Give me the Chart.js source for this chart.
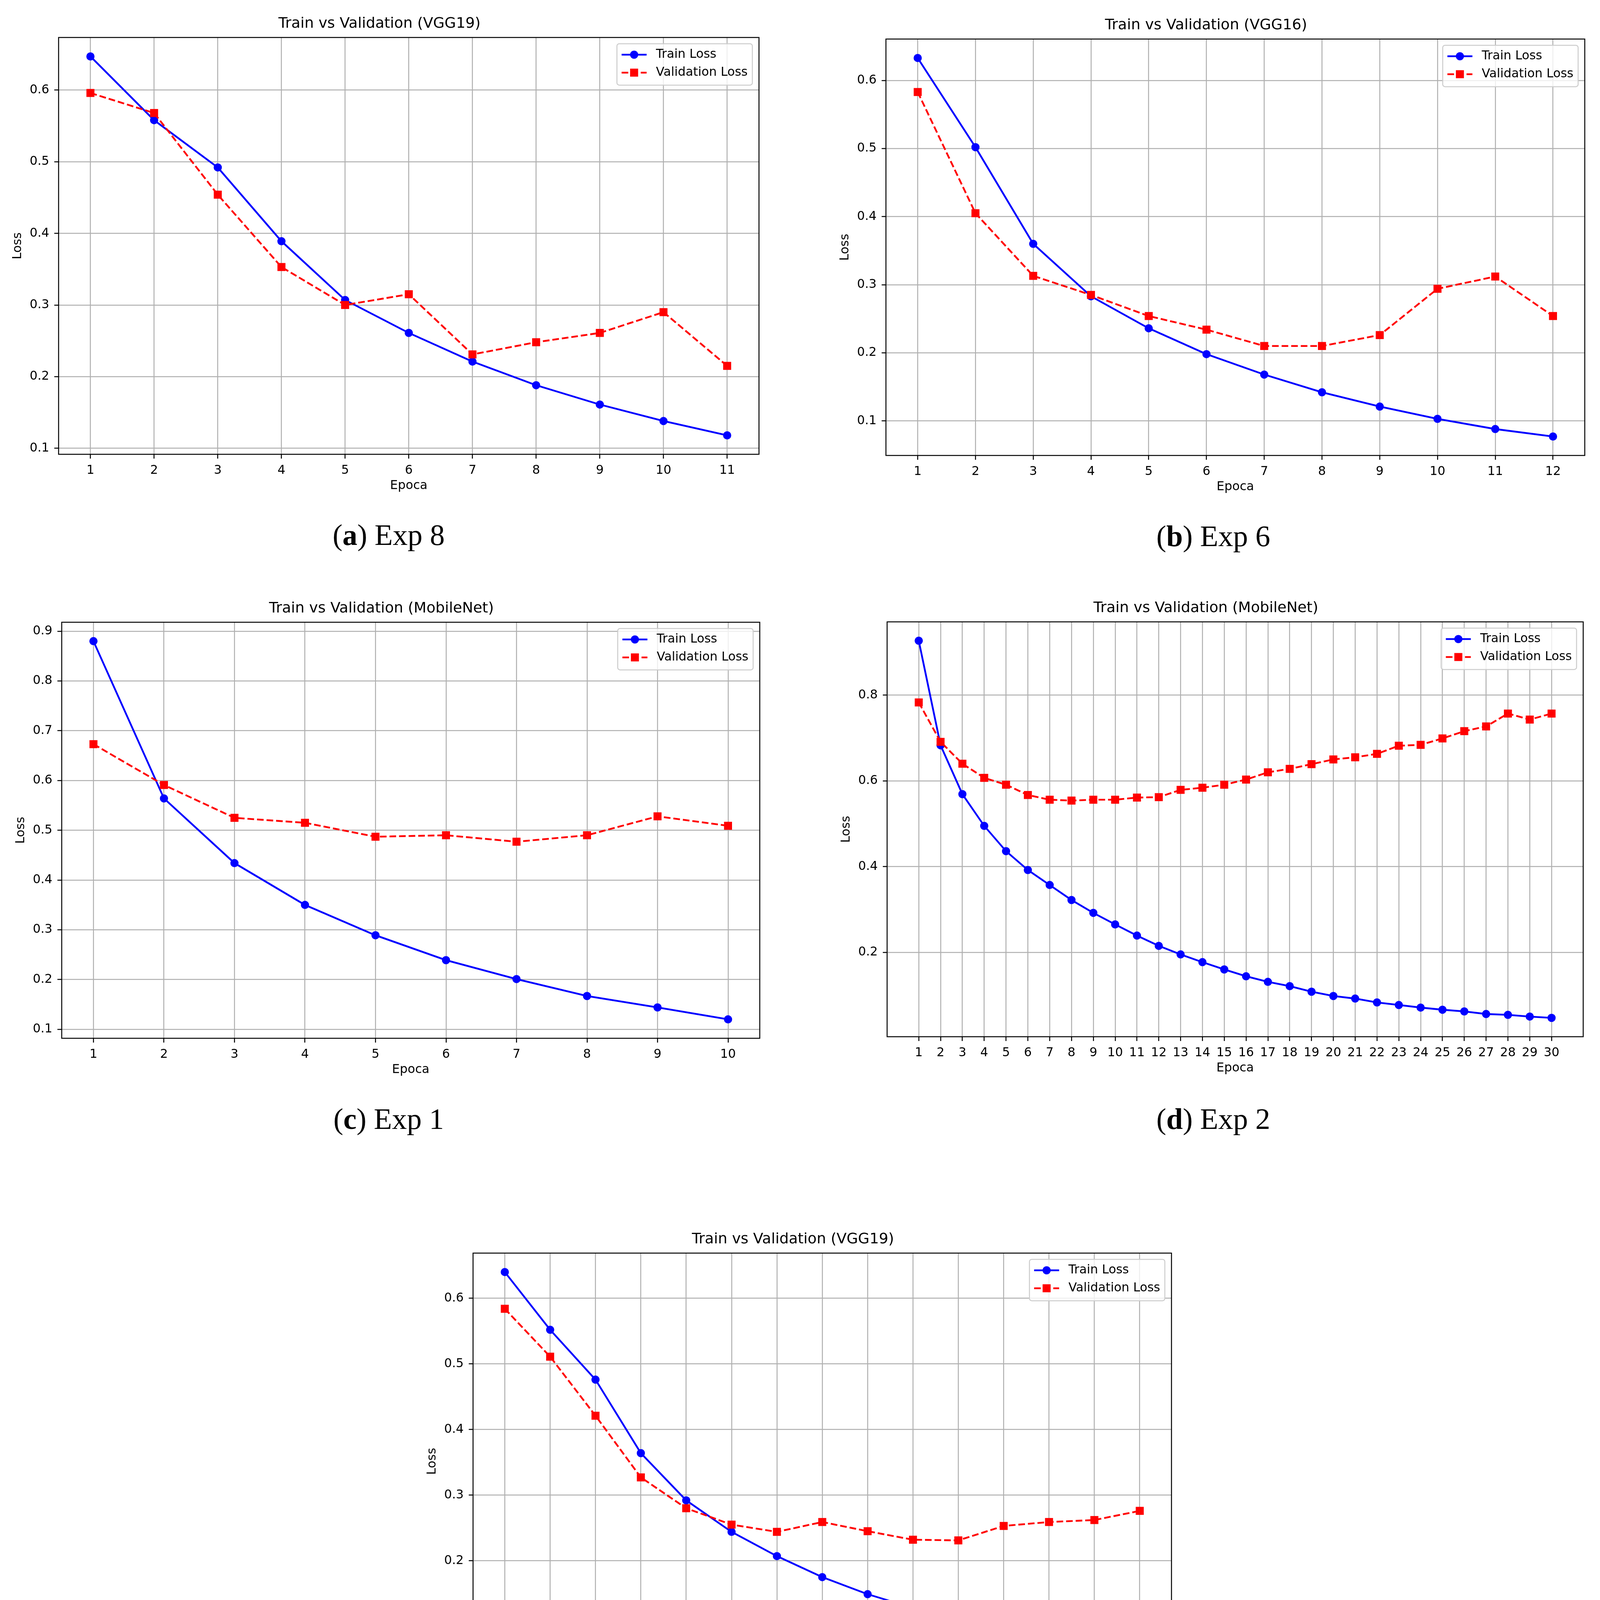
<!DOCTYPE html>
<html lang="pt">
<head>
<meta charset="utf-8">
<title>Train vs Validation</title>
<script src="https://cdn.jsdelivr.net/npm/chart.js@4.4.0/dist/chart.umd.min.js"></script>
<style>
  html, body { margin: 0; padding: 0; background: #fff; overflow: hidden; }
  #pagina { position: relative; width: 4099px; height: 4574px; overflow: hidden; }
  canvas { position: absolute; }
  .legenda {
    position: absolute;
    font-family: "Liberation Serif", serif;
    font-size: 76px;
    line-height: 76px;
    color: #000;
    white-space: nowrap;
    transform: translate(-50%, -50%);
  }
</style>
</head>
<body>
<div id="pagina">
  <canvas id="graficoA"></canvas>
  <canvas id="graficoB"></canvas>
  <canvas id="graficoC"></canvas>
  <canvas id="graficoD"></canvas>
  <canvas id="graficoE"></canvas>
  <div class="legenda" style="left:995px;top:1369px">(<b>a</b>) Exp 8</div>
  <div class="legenda" style="left:3106px;top:1372px">(<b>b</b>) Exp 6</div>
  <div class="legenda" style="left:995px;top:2864px">(<b>c</b>) Exp 1</div>
  <div class="legenda" style="left:3106px;top:2864px">(<b>d</b>) Exp 2</div>
  <div class="legenda" style="left:2049px;top:4485px">(<b>e</b>) Exp 11</div>
</div>
<script>
// (a) Exp 8 - VGG19
var epocasA = [1, 2, 3, 4, 5, 6, 7, 8, 9, 10, 11];
var treinoA = [0.647, 0.558, 0.492, 0.389, 0.307, 0.261, 0.221, 0.188, 0.161, 0.138, 0.118];
var validacaoA = [0.596, 0.568, 0.454, 0.353, 0.300, 0.315, 0.231, 0.248, 0.261, 0.290, 0.215];
var marcasYA = [0.1, 0.2, 0.3, 0.4, 0.5, 0.6];

// (b) Exp 6 - VGG16
var epocasB = [1, 2, 3, 4, 5, 6, 7, 8, 9, 10, 11, 12];
var treinoB = [0.633, 0.502, 0.360, 0.283, 0.236, 0.198, 0.168, 0.142, 0.121, 0.103, 0.088, 0.077];
var validacaoB = [0.583, 0.405, 0.313, 0.285, 0.254, 0.234, 0.210, 0.210, 0.226, 0.294, 0.312, 0.254];
var marcasYB = [0.1, 0.2, 0.3, 0.4, 0.5, 0.6];

// (c) Exp 1 - MobileNet
var epocasC = [1, 2, 3, 4, 5, 6, 7, 8, 9, 10];
var treinoC = [0.880, 0.564, 0.434, 0.350, 0.289, 0.239, 0.201, 0.167, 0.144, 0.120];
var validacaoC = [0.673, 0.591, 0.525, 0.515, 0.487, 0.490, 0.477, 0.490, 0.528, 0.509];
var marcasYC = [0.1, 0.2, 0.3, 0.4, 0.5, 0.6, 0.7, 0.8, 0.9];

// (d) Exp 2 - MobileNet
var epocasD = [1, 2, 3, 4, 5, 6, 7, 8, 9, 10, 11, 12, 13, 14, 15, 16, 17, 18, 19, 20, 21, 22, 23, 24, 25, 26, 27, 28, 29, 30];
var treinoD = [0.927, 0.683, 0.569, 0.495, 0.436, 0.392, 0.357, 0.322, 0.292, 0.265, 0.239, 0.215, 0.195, 0.177, 0.160,
               0.144, 0.131, 0.121, 0.108, 0.098, 0.092, 0.083, 0.077, 0.071, 0.066, 0.062, 0.056, 0.054, 0.050, 0.047];
var validacaoD = [0.783, 0.691, 0.640, 0.607, 0.591, 0.567, 0.556, 0.554, 0.556, 0.556, 0.561, 0.562, 0.579, 0.584, 0.591,
                  0.603, 0.620, 0.628, 0.639, 0.650, 0.655, 0.663, 0.682, 0.684, 0.699, 0.716, 0.727, 0.757, 0.743, 0.757];
var marcasYD = [0.2, 0.4, 0.6, 0.8];

// (e) Exp 11 - VGG19
var epocasE = [1, 2, 3, 4, 5, 6, 7, 8, 9, 10, 11, 12, 13, 14, 15];
var treinoE = [0.640, 0.552, 0.476, 0.364, 0.292, 0.244, 0.207, 0.175, 0.149, 0.128, 0.108, 0.093, 0.080, 0.071, 0.063];
var validacaoE = [0.584, 0.511, 0.421, 0.327, 0.280, 0.255, 0.244, 0.259, 0.245, 0.232, 0.231, 0.253, 0.259, 0.262, 0.276];
var marcasYE = [0.1, 0.2, 0.3, 0.4, 0.5, 0.6];

Chart.defaults.font.family = '"DejaVu Sans", sans-serif';
Chart.defaults.color = '#000';

// contorno preto em volta da area do grafico
var moldura = {
    id: 'moldura',
    afterDatasetsDraw(chart) {
        const a = chart.chartArea;
        const ctx = chart.ctx;
        ctx.save();
        ctx.strokeStyle = '#000';
        ctx.lineWidth = 2.5;
        ctx.setLineDash([]);
        ctx.strokeRect(a.left, a.top, a.right - a.left, a.bottom - a.top);
        ctx.restore();
    }
};

// legenda dentro do grafico, canto superior direito
var caixaLegenda = {
    id: 'caixaLegenda',
    afterDraw(chart) {
        const a = chart.chartArea;
        const ctx = chart.ctx;
        const conjuntos = chart.data.datasets;
        ctx.save();
        ctx.font = '31.5px "DejaVu Sans"';
        let larguraTexto = 0;
        conjuntos.forEach(d => { larguraTexto = Math.max(larguraTexto, ctx.measureText(d.label).width); });
        const pad = 12, alca = 64, folga = 24, passo = 46;
        const w = pad + alca + folga + larguraTexto + pad;
        const h = 106;
        const x = a.right - 17 - w;
        const y = a.top + 16;

        ctx.beginPath();
        ctx.roundRect(x, y, w, h, 6);
        ctx.fillStyle = 'rgba(255,255,255,0.8)';
        ctx.fill();
        ctx.strokeStyle = '#cccccc';
        ctx.lineWidth = 2.5;
        ctx.stroke();

        conjuntos.forEach((d, i) => {
            const cy = y + 28 + i * passo;
            ctx.strokeStyle = d.borderColor;
            ctx.lineWidth = d.borderWidth;
            ctx.setLineDash(d.borderDash || []);
            ctx.beginPath();
            ctx.moveTo(x + pad, cy);
            ctx.lineTo(x + pad + alca, cy);
            ctx.stroke();
            ctx.setLineDash([]);
            ctx.fillStyle = d.borderColor;
            const mx = x + pad + alca / 2;
            if (d.pointStyle === 'rect') {
                const lado = d.pointRadius * Math.SQRT2;
                ctx.fillRect(mx - lado / 2, cy - lado / 2, lado, lado);
            } else {
                ctx.beginPath();
                ctx.arc(mx, cy, d.pointRadius, 0, Math.PI * 2);
                ctx.fill();
            }
            ctx.fillStyle = '#000';
            ctx.textBaseline = 'middle';
            ctx.textAlign = 'left';
            ctx.fillText(d.label, x + pad + alca + folga, cy);
        });
        ctx.restore();
    }
};

function desenharPainel(idCanvas, caixa, titulo, epocas, treino, validacao, marcasY) {
    const canvas = document.getElementById(idCanvas);
    const largura = caixa.direita - caixa.esquerda;
    const altura = caixa.baixo - caixa.topo;
    canvas.width = largura + 300;
    canvas.height = altura + 215;
    canvas.style.width = canvas.width + 'px';
    canvas.style.height = canvas.height + 'px';
    canvas.style.left = (caixa.esquerda - 150) + 'px';
    canvas.style.top = (caixa.topo - 95) + 'px';

    // margem de 5% como no matplotlib
    const todos = treino.concat(validacao);
    const minY = Math.min(...todos);
    const maxY = Math.max(...todos);
    const margemY = (maxY - minY) * 0.05;
    const primeira = epocas[0];
    const ultima = epocas[epocas.length - 1];
    const margemX = (ultima - primeira) * 0.05;

    const grade = {
        color: '#b0b0b0',
        lineWidth: 2.5,
        tickColor: '#000',
        tickLength: 11,
        tickWidth: 2.5
    };

    new Chart(canvas, {
        type: 'line',
        data: {
            datasets: [{
                label: 'Train Loss',
                data: epocas.map((e, i) => ({ x: e, y: treino[i] })),
                borderColor: '#0000ff',
                backgroundColor: '#0000ff',
                borderWidth: 4.6,
                pointStyle: 'circle',
                pointRadius: 10.5,
                pointBorderWidth: 0,
                pointBackgroundColor: '#0000ff',
                tension: 0,
                order: 1
            },
            {
                label: 'Validation Loss',
                data: epocas.map((e, i) => ({ x: e, y: validacao[i] })),
                borderColor: '#ff0000',
                backgroundColor: '#ff0000',
                borderWidth: 4.6,
                borderDash: [17, 7.5],
                pointStyle: 'rect',
                pointRadius: 14.5,
                pointBorderWidth: 0,
                pointBackgroundColor: '#ff0000',
                tension: 0,
                order: 0
            }]
        },
        options: {
            responsive: false,
            animation: false,
            devicePixelRatio: 1,
            layout: { padding: { left: 0, right: 150, top: 0, bottom: 0 } },
            plugins: {
                legend: { display: false },
                tooltip: { enabled: false },
                title: {
                    display: true,
                    text: titulo,
                    color: '#000',
                    font: { size: 37.8, weight: 'normal' },
                    padding: { top: 38.8, bottom: 11.8 }
                }
            },
            scales: {
                x: {
                    type: 'linear',
                    min: primeira - margemX,
                    max: ultima + margemX,
                    afterBuildTicks: s => { s.ticks = epocas.map(v => ({ value: v })); },
                    afterFit: s => { s.height = 120; },
                    grid: grade,
                    border: { display: false },
                    ticks: {
                        font: { size: 31.5 },
                        padding: 12,
                        autoSkip: false,
                        maxRotation: 0,
                        callback: v => String(v)
                    },
                    title: {
                        display: true,
                        text: 'Epoca',
                        font: { size: 31.5 },
                        padding: { top: 0, bottom: 20 }
                    }
                },
                y: {
                    type: 'linear',
                    min: minY - margemY,
                    max: maxY + margemY,
                    afterBuildTicks: s => { s.ticks = marcasY.map(v => ({ value: v })); },
                    afterFit: s => { s.width = 150; },
                    grid: grade,
                    border: { display: false },
                    ticks: {
                        font: { size: 31.5 },
                        padding: 13,
                        callback: v => Number(v).toFixed(1)
                    },
                    title: {
                        display: true,
                        text: 'Loss',
                        font: { size: 31.5 },
                        padding: { top: 27, bottom: 0 }
                    }
                }
            }
        },
        plugins: [moldura, caixaLegenda]
    });
}

desenharPainel('graficoA', { esquerda: 150, topo: 95, direita: 1943, baixo: 1163 },
    'Train vs Validation (VGG19)', epocasA, treinoA, validacaoA, marcasYA);
desenharPainel('graficoB', { esquerda: 2268, topo: 99, direita: 4057, baixo: 1166 },
    'Train vs Validation (VGG16)', epocasB, treinoB, validacaoB, marcasYB);
desenharPainel('graficoC', { esquerda: 158, topo: 1592, direita: 1945, baixo: 2658 },
    'Train vs Validation (MobileNet)', epocasC, treinoC, validacaoC, marcasYC);
desenharPainel('graficoD', { esquerda: 2271, topo: 1591, direita: 4053, baixo: 2654 },
    'Train vs Validation (MobileNet)', epocasD, treinoD, validacaoD, marcasYD);
desenharPainel('graficoE', { esquerda: 1211, topo: 3207, direita: 2999, baixo: 4274 },
    'Train vs Validation (VGG19)', epocasE, treinoE, validacaoE, marcasYE);
</script>
</body>
</html>
